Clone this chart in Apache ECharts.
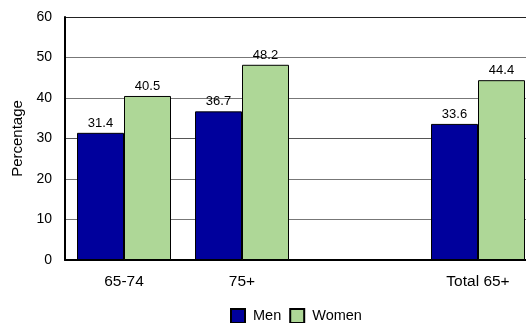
<!DOCTYPE html>
<html>
<head>
<meta charset="utf-8">
<script src="https://cdn.jsdelivr.net/npm/echarts@6/dist/echarts.min.js"></script>
<style>
html,body{margin:0;padding:0;background:#fff;}
#chart{width:526px;height:323px;}
</style>
</head>
<body>
<div id="chart"></div>
<script>
var categories = ['65-74', '75+', '', 'Total 65+'];
var menValues = [31.4, 36.7, '-', 33.6];
var womenValues = [40.5, 48.2, '-', 44.4];
var seriesNames = ['Men', 'Women'];
var yAxisTitle = 'Percentage';

var FONT = 'Liberation Sans, Arial, sans-serif';
var chart = echarts.init(document.getElementById('chart'));
var labelCfg = {
  show: true, position: 'top', distance: 3,
  color: '#000', fontSize: 13, fontFamily: FONT
};
chart.setOption({
  animation: false,
  backgroundColor: '#fff',
  grid: { left: 65, right: -11, top: 17, bottom: 63, outerBoundsMode: 'none', containLabel: false },
  legend: {
    left: 230, top: 308, padding: 0, itemWidth: 14, itemHeight: 14, itemGap: 8, icon: 'rect',
    textStyle: { fontSize: 14.5, fontFamily: FONT, color: '#000', padding: [8, 0, 0, 3] },
    data: seriesNames
  },
  xAxis: {
    type: 'category', data: categories,
    axisLine: { lineStyle: { color: '#000', width: 2 } },
    axisTick: { show: false },
    axisLabel: { color: '#000', fontSize: 15.5, fontFamily: FONT, margin: 14 }
  },
  yAxis: {
    type: 'value', min: 0, max: 60, interval: 10,
    name: yAxisTitle, nameLocation: 'middle', nameRotate: 90, nameGap: 36,
    nameTextStyle: { color: '#000', fontSize: 15, fontFamily: FONT },
    axisLine: { show: true, lineStyle: { color: '#000', width: 2 } },
    axisTick: { show: false },
    axisLabel: { color: '#000', fontSize: 14, fontFamily: FONT, margin: 13 },
    splitLine: { show: true, lineStyle: { color: ['#666', '#777', '#777', '#555', '#777', '#777', '#222'], width: 1 } }
  },
  series: [
    {
      name: seriesNames[0], type: 'bar', data: menValues,
      barWidth: 47, barGap: '0%',
      itemStyle: { color: '#00009C', borderColor: '#000', borderWidth: 1 },
      label: labelCfg
    },
    {
      name: seriesNames[1], type: 'bar', data: womenValues,
      barWidth: 47, barGap: '0%',
      itemStyle: { color: '#AED797', borderColor: '#000', borderWidth: 1 },
      label: labelCfg
    }
  ]
});
</script>
</body>
</html>
